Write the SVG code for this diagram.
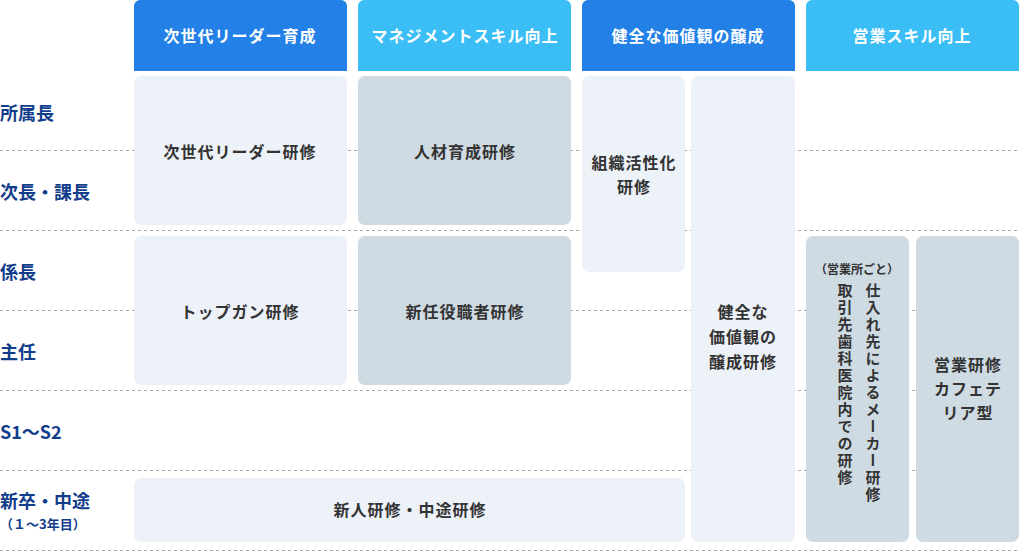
<svg xmlns="http://www.w3.org/2000/svg" width="1020" height="551" viewBox="0 0 1020 551">
<style>
text{font-family:"Noto Sans CJK JP","Noto Sans",sans-serif;font-weight:bold;}
.h{fill:#fff;font-size:16px;text-anchor:middle;letter-spacing:1px}
.r{fill:#123d8c;font-size:18px}
.t{fill:#333;font-size:16px;text-anchor:middle;letter-spacing:1px}
.l{fill:#edf1f8}.g{fill:#cfdbe3}
.d{stroke:#aaa;stroke-width:1;stroke-dasharray:3 3}
.v{writing-mode:vertical-rl;fill:#333;font-size:15px;letter-spacing:2px}
</style>
<g id="grid">
<line class="d" x1="0" y1="150.5" x2="1020" y2="150.5"/><line class="d" x1="0" y1="230.5" x2="1020" y2="230.5"/><line class="d" x1="0" y1="310.5" x2="1020" y2="310.5"/><line class="d" x1="0" y1="390.5" x2="1020" y2="390.5"/><line class="d" x1="0" y1="470.5" x2="1020" y2="470.5"/><line class="d" x1="0" y1="550.5" x2="1020" y2="550.5"/>
</g>
<g id="headers">
<path d="M134,71V6a6,6 0 0 1 6,-6H341a6,6 0 0 1 6,6V71Z" fill="#2280e6"/><text class="h" x="240" y="42">次世代リーダー育成</text>
<path d="M358,71V6a6,6 0 0 1 6,-6H565a6,6 0 0 1 6,6V71Z" fill="#3bbef5"/><text class="h" x="465" y="42">マネジメントスキル向上</text>
<path d="M582,71V6a6,6 0 0 1 6,-6H789a6,6 0 0 1 6,6V71Z" fill="#2280e6"/><text class="h" x="688" y="42">健全な価値観の醸成</text>
<path d="M806,71V6a6,6 0 0 1 6,-6H1013a6,6 0 0 1 6,6V71Z" fill="#3bbef5"/><text class="h" x="912" y="42">営業スキル向上</text>
</g>
<g id="rows">
<text class="r" x="0" y="120">所属長</text>
<text class="r" x="0" y="199">次長・課長</text>
<text class="r" x="0" y="279">係長</text>
<text class="r" x="0" y="359">主任</text>
<text class="r" x="0" y="439">S1〜S2</text>
<text class="r" x="0" y="508">新卒・中途</text>
<text x="0" y="529" style="fill:#123d8c;font-size:13px">（１〜3年目）</text>
</g>
<g id="n1"><rect class="l" x="134" y="76" width="213" height="149" rx="7"/><text class="t" x="240" y="158">次世代リーダー研修</text></g>
<g id="n2"><rect class="g" x="358" y="76" width="213" height="149" rx="7"/><text class="t" x="465" y="158">人材育成研修</text></g>
<g id="n3"><rect class="l" x="582" y="76" width="103" height="196" rx="7"/><text class="t" x="634" y="169">組織活性化</text><text class="t" x="634" y="193">研修</text></g>
<g id="n4"><rect class="l" x="691" y="76" width="104" height="466" rx="7"/><text class="t" x="743" y="318">健全な</text><text class="t" x="743" y="343">価値観の</text><text class="t" x="743" y="368">醸成研修</text></g>
<g id="n5"><rect class="l" x="134" y="236" width="213" height="149" rx="7"/><text class="t" x="240" y="318">トップガン研修</text></g>
<g id="n6"><rect class="g" x="358" y="236" width="213" height="149" rx="7"/><text class="t" x="465" y="318">新任役職者研修</text></g>
<g id="n7"><rect class="l" x="134" y="478" width="551" height="64" rx="7"/><text class="t" x="410" y="516">新人研修・中途研修</text></g>
<g id="n8"><rect class="g" x="806" y="236" width="103" height="306" rx="7"/>
<text x="857" y="274" style="fill:#333;font-size:12px;text-anchor:middle">（営業所ごと）</text>
<text class="v" x="845" y="283">取引先歯科医院内での研修</text>
<text class="v" x="873" y="283">仕入れ先によるメーカー研修</text></g>
<g id="n9"><rect class="g" x="916" y="236" width="103" height="306" rx="7"/><text class="t" x="968" y="371">営業研修</text><text class="t" x="968" y="395">カフェテ</text><text class="t" x="968" y="419">リア型</text></g>
</svg>
